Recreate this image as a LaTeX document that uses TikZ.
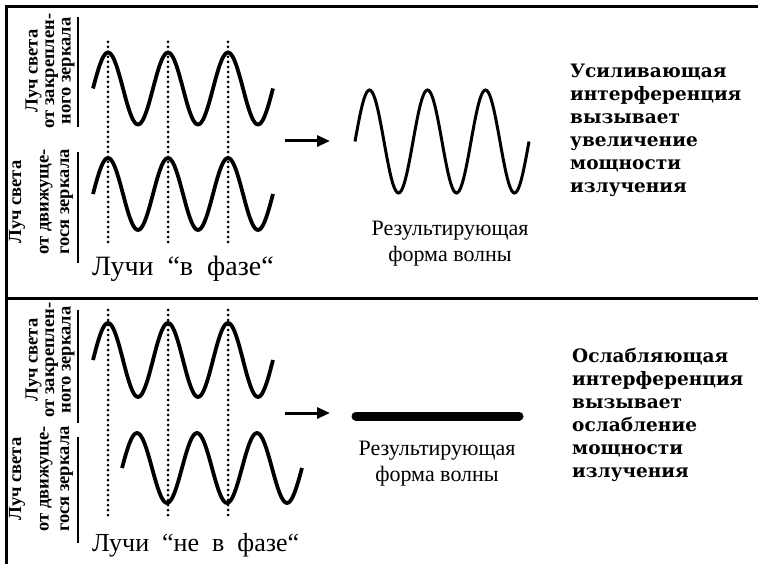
\documentclass[tikz,border=0pt]{standalone}
\usepackage{fontspec}
\setmainfont{Liberation Serif}
\newfontfamily\effectfont{DejaVu Serif}
\newfontfamily\phasefont[WordSpace=2]{Liberation Serif}
\usetikzlibrary{positioning,arrows.meta}

\begin{document}
\begin{tikzpicture}[x=1pt, y=-1pt,
  every node/.style={inner sep=0pt, font=\fontsize{22}{26}\selectfont},
  beam/.style={rotate=90, align=center, font=\bfseries\fontsize{18.5}{16.5}\selectfont},
  effect/.style={anchor=north west, align=left, font=\effectfont\bfseries\fontsize{18.5}{23}\selectfont},
  result/.style={align=center},
  phasetext/.style={anchor=west, font=\phasefont\fontsize{28}{30}\selectfont},
  wave/.style={line width=3.8pt},
  phaseline/.style={line width=3pt, line cap=round, dash pattern=on 0pt off 5pt},
  frameline/.style={line width=3pt},
  bracket/.style={line width=2pt},
  arr/.style={line width=3pt, -{Triangle[length=13pt,width=11pt]}}]
\useasboundingbox (0,0) rectangle (758,564);

% frame
\draw[frameline] (6,564) -- (6,7) -- (758,7);
\draw[frameline] (6,298) -- (758,298);

% upper panel: beams in phase
\node (fixed1) [beam] at (50,71) {Луч света\\от закреплен-\\ного зеркала};
\node (moving1) [beam] at (41,202) {Луч света\\[11pt]от движуще-\\[4pt]гося зеркала};
\draw[bracket] (78,17) -- (78,127);
\draw[bracket] (78,152) -- (78,263);
\draw[wave] plot[domain=0:180, samples=121] ({93+\x},{88.5-36*sin(6*\x)});
\draw[wave] plot[domain=0:180, samples=121] ({93+\x},{194-36*sin(6*\x)});
\foreach \px in {108,168,228}
  \draw[phaseline] (\px,42) -- (\px,245);
\node (inphase) [phasetext] at (92,269) {Лучи “в фазе“};

% upper panel: result
\coordinate (arr1s) at (285,141);
\coordinate (arr1e) at (330,141);
\draw[arr] (arr1s) -- (arr1e);
\draw[line width=3pt] plot[domain=0:174, samples=121] ({355+\x},{141.5-51.5*sin(360/58*\x)});
\node (res1) [result] at (450,244) {Результирующая\\форма волны};
\node (gain) [effect] at (570,64) {Усиливающая\\интерференция\\вызывает\\увеличение\\мощности\\излучения};

% lower panel: beams out of phase
\node (fixed2) [beam] at (50,360) {Луч света\\от закреплен-\\ного зеркала};
\node (moving2) [beam] at (41,479) {Луч света\\[11pt]от движуще-\\[4pt]гося зеркала};
\draw[bracket] (78,310) -- (78,423);
\draw[bracket] (78,437) -- (78,543);
\draw[wave] plot[domain=0:180, samples=121] ({93+\x},{360-37*sin(6*\x)});
\draw[wave] plot[domain=0:180, samples=121] ({122+\x},{468-35*sin(6*\x)});
\foreach \px in {108,168,228}
  \draw[phaseline] (\px,310) -- (\px,517);
\node (outphase) [phasetext, font=\phasefont\fontsize{26}{30}\selectfont] at (92,545) {Лучи “не в фазе“};

% lower panel: result
\coordinate (arr2s) at (285,413);
\coordinate (arr2e) at (330,413);
\draw[arr] (arr2s) -- (arr2e);
\draw[line width=9pt, line cap=round] (356,416) -- (519,416);
\node (res2) [result] at (437,464) {Результирующая\\форма волны};
\node (loss) [effect] at (572,348) {Ослабляющая\\интерференция\\вызывает\\ослабление\\мощности\\излучения};
\end{tikzpicture}
\end{document}
